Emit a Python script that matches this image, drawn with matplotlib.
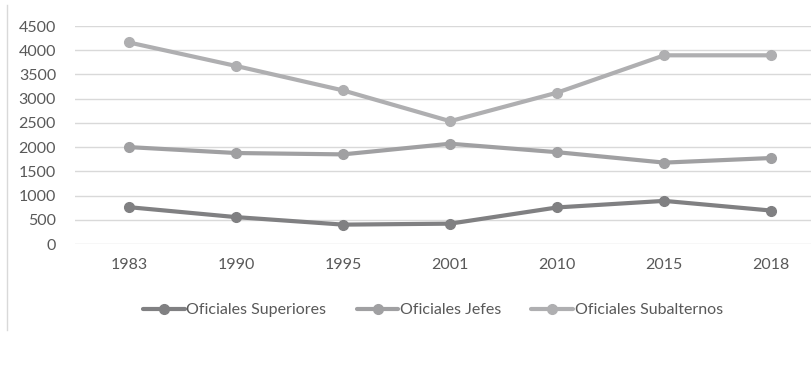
import matplotlib.pyplot as plt
from matplotlib.lines import Line2D

years = ['1983', '1990', '1995', '2001', '2010', '2015', '2018']
superiores = [760, 555, 400, 420, 755, 890, 690]
jefes = [2000, 1878, 1850, 2070, 1895, 1680, 1775]
subalternos = [4160, 3675, 3170, 2535, 3125, 3895, 3895]

labels = ['Oficiales Superiores', 'Oficiales Jefes', 'Oficiales Subalternos']
colors = ['#808082', '#a0a0a2', '#afafb1']

plt.rcParams['font.family'] = ['Lato', 'DejaVu Sans']

fig = plt.figure(figsize=(8.12, 3.82), dpi=100)
ax = fig.add_axes([75.5 / 812, 1 - 244 / 382, 1 - 75.5 / 812, 218 / 382])

x = range(len(years))
for vals, lab, c in zip([superiores, jefes, subalternos], labels, colors):
    ax.plot(x, vals, color=c, linewidth=3, marker='o', markersize=7,
            label=lab, solid_capstyle='round')

ax.set_xlim(-0.5, 6.38)
ax.set_ylim(0, 4500)
ax.set_yticks(range(0, 4501, 500))
ax.set_xticks(list(x))
ax.set_xticklabels(years)
ax.grid(axis='y', color='#d9d9d9', linewidth=1)
ax.set_axisbelow(True)
for s in ax.spines.values():
    s.set_visible(False)
ax.tick_params(length=0, labelsize=11.5, labelcolor='#595959')
ax.tick_params(axis='y', pad=14)
ax.tick_params(axis='x', pad=10)

fig.legend(loc='center', bbox_to_anchor=(433 / 812, 1 - 310 / 382), ncol=3,
           frameon=False, fontsize=11.5, labelcolor='#595959',
           handlelength=2.6, handletextpad=0.1, columnspacing=1.9)

fig.add_artist(Line2D([7 / 812, 7 / 812], [1 - 5 / 382, 1 - 330 / 382],
                      color='#d9d9d9', linewidth=1))

fig.savefig('out.png', dpi=100)
